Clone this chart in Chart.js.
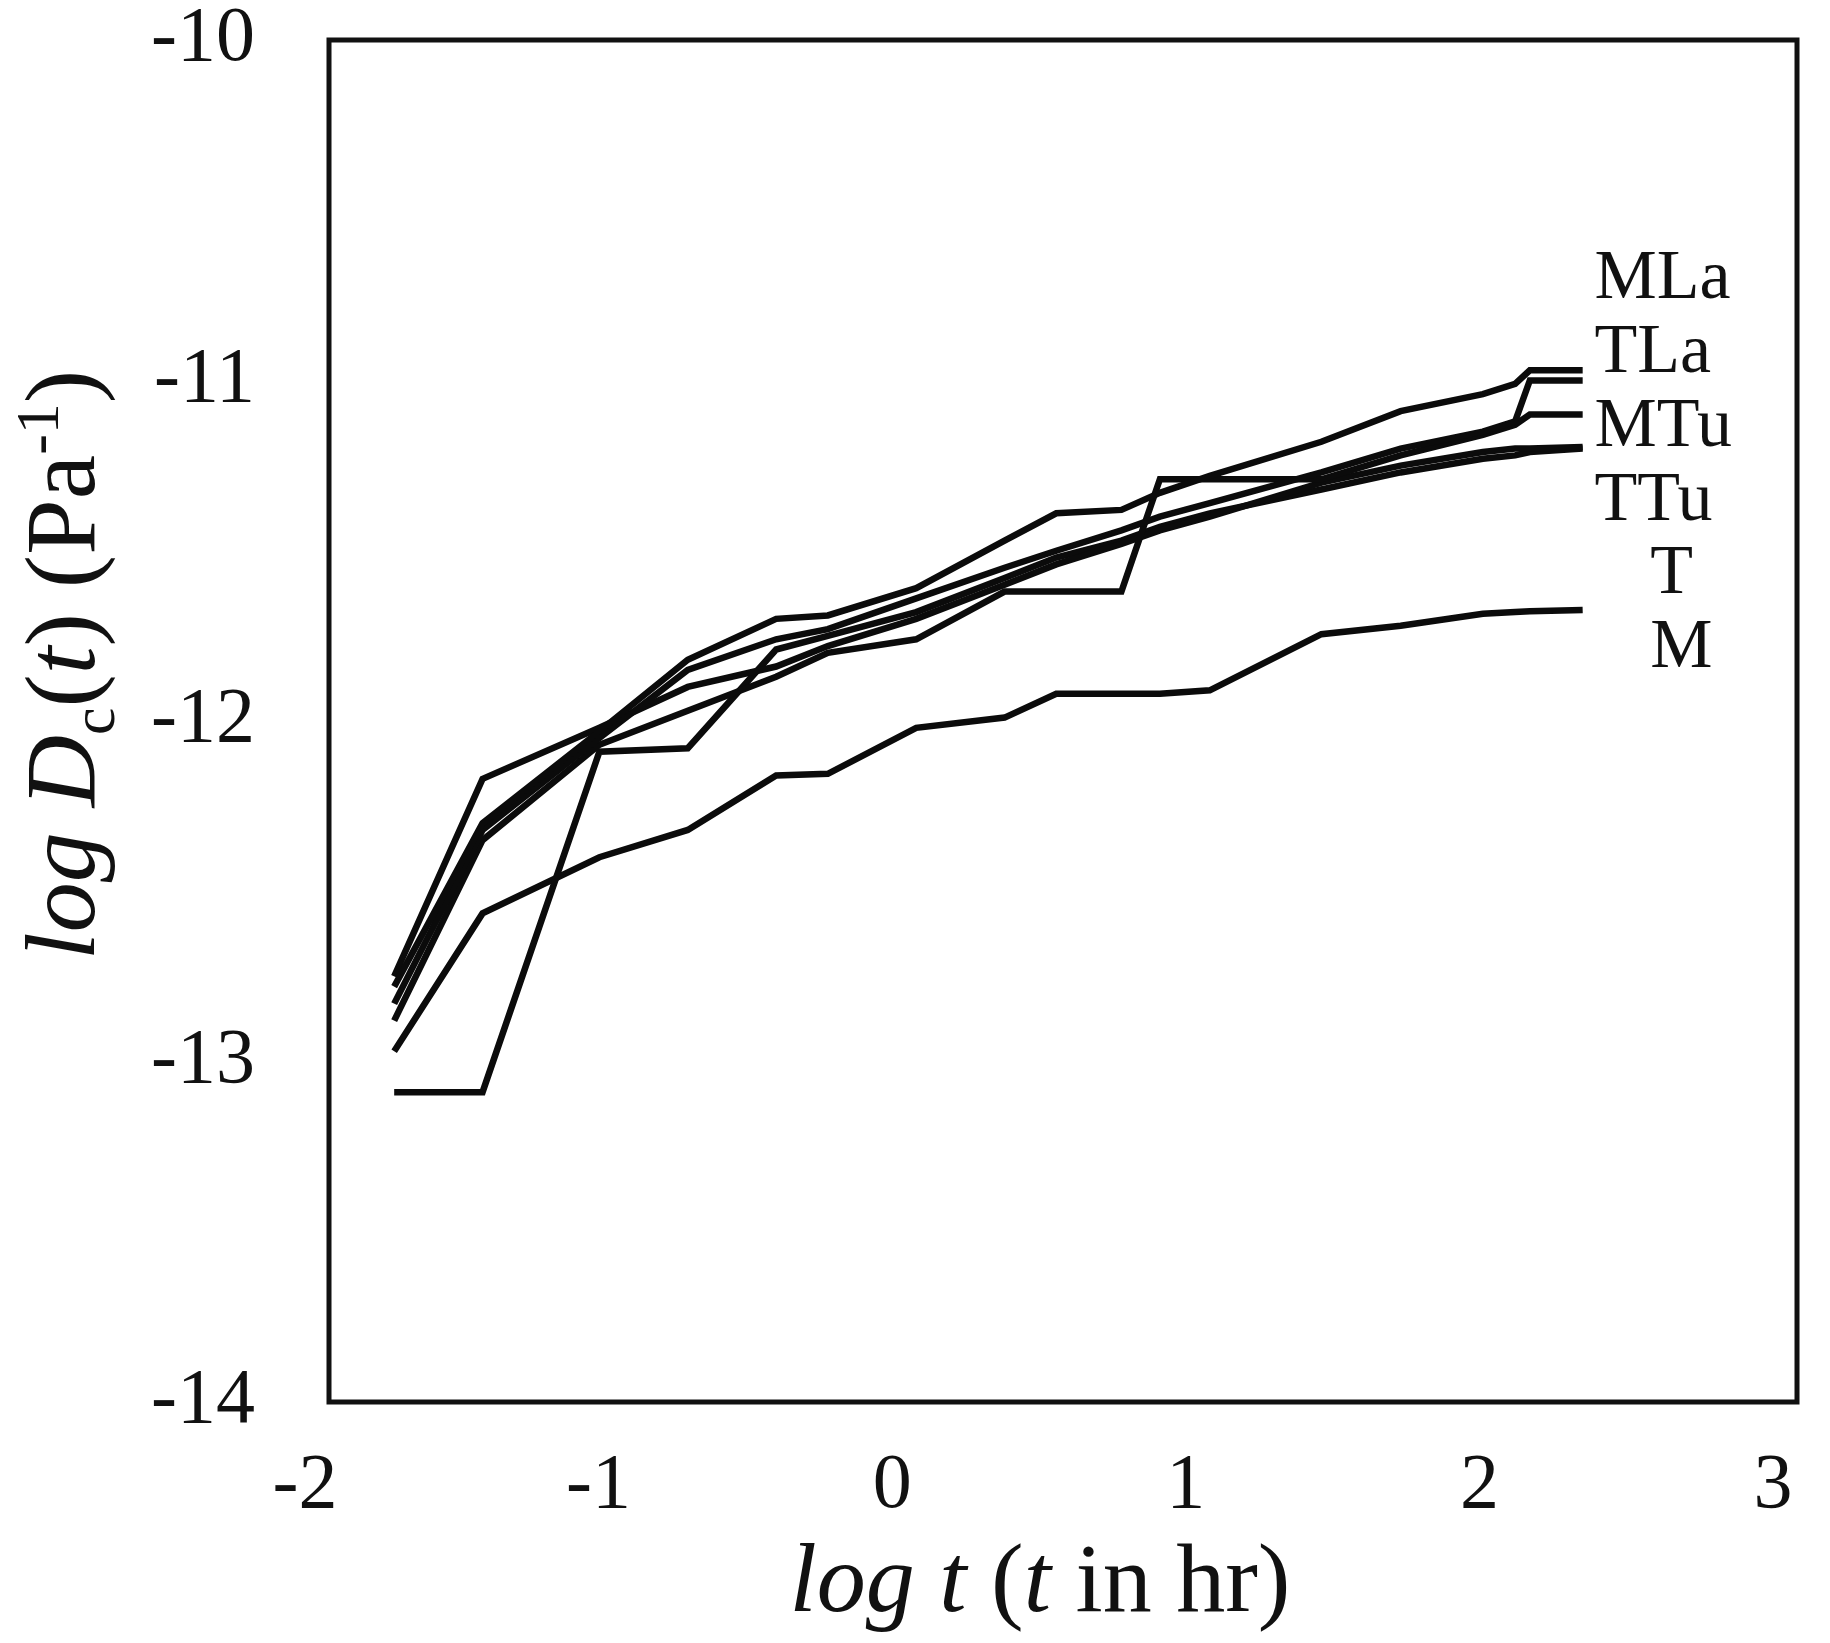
<!DOCTYPE html>
<html><head><meta charset="utf-8">
<script src="https://cdn.jsdelivr.net/npm/chart.js@4.4.1/dist/chart.umd.min.js"></script>
<style>html,body{margin:0;padding:0;background:#fff;}canvas{display:block;}</style>
</head><body>
<canvas id="c" width="1830" height="1643"></canvas>
<script>
// log t (t in hr)
const logT = [-1.778, -1.477, -1.079, -0.778, -0.477, -0.301, 0, 0.301, 0.477, 0.699, 0.83, 1.0, 1.38, 1.65, 1.93, 2.04, 2.09, 2.27];
// log Dc(t) for each sample
const MLa = [-12.78, -12.30, -12.03, -11.82, -11.70, -11.69, -11.61, -11.47, -11.39, -11.38, -11.33, -11.28, -11.18, -11.09, -11.04, -11.01, -10.97, -10.97];
const TLa = [-12.83, -12.32, -12.05, -11.85, -11.76, -11.73, -11.64, -11.55, -11.50, -11.44, -11.40, -11.36, -11.27, -11.20, -11.15, -11.12, -11.00, -11.00];
const MTu = [-12.88, -12.35, -12.07, -11.97, -11.87, -11.80, -11.76, -11.62, -11.62, -11.62, -11.29, -11.29, -11.29, -11.22, -11.16, -11.13, -11.10, -11.10];
const TTu = [-12.75, -12.17, -12.02, -11.90, -11.84, -11.78, -11.70, -11.60, -11.54, -11.48, -11.44, -11.40, -11.30, -11.25, -11.21, -11.20, -11.20, -11.195];
const T   = [-13.09, -13.09, -12.09, -12.08, -11.79, -11.75, -11.68, -11.58, -11.52, -11.47, -11.43, -11.39, -11.32, -11.27, -11.23, -11.22, -11.21, -11.20];
const M   = [-12.97, -12.565, -12.40, -12.32, -12.16, -12.155, -12.02, -11.99, -11.92, -11.92, -11.92, -11.91, -11.745, -11.72, -11.685, -11.68, -11.678, -11.674];

const seriesNames = ['MLa', 'TLa', 'MTu', 'TTu', 'T', 'M'];
const seriesValues = [MLa, TLa, MTu, TTu, T, M];

const xTicks = [-2, -1, 0, 1, 2, 3];
const yTicks = [-14, -13, -12, -11, -10];

// in-plot series labels (data coordinates)
const labelNames = ['MLa', 'TLa', 'MTu', 'TTu', 'T', 'M'];
const labelX = [2.31, 2.31, 2.31, 2.31, 2.50, 2.50];
const labelY = [-10.705, -10.922, -11.137, -11.357, -11.571, -11.786];

const SERIF = '"Liberation Serif", "Times New Roman", Times, serif';
const INK = '#111';

// target plot box (pixels)
const BOX = { left: 329, top: 40, right: 1797, bottom: 1402 };

function drawRich(ctx, segs, x, y, size, rotate) {
  ctx.save();
  ctx.translate(x, y);
  if (rotate) ctx.rotate(-Math.PI / 2);
  const fontFor = s => (s.it ? 'italic ' : '') + ((s.sub || s.sup) ? Math.round(size * 0.62) : size) + 'px ' + SERIF;
  let w = 0;
  segs.forEach(s => { ctx.font = fontFor(s); s.w = ctx.measureText(s.t).width; w += s.w; });
  let cx = -w / 2;
  ctx.textBaseline = 'alphabetic';
  ctx.textAlign = 'left';
  ctx.fillStyle = INK;
  segs.forEach(s => {
    ctx.font = fontFor(s);
    let dy = 0;
    if (s.sub) dy = size * 0.2;
    if (s.sup) dy = -size * 0.36;
    ctx.fillText(s.t, cx, dy + size * 0.3);
    cx += s.w;
  });
  ctx.restore();
}

const decorPlugin = {
  id: 'decor',
  afterDraw(chart) {
    const ctx = chart.ctx;
    const a = chart.chartArea;
    const xs = chart.scales.x, ys = chart.scales.y;
    ctx.save();
    ctx.strokeStyle = INK;
    ctx.lineWidth = 5;
    ctx.strokeRect(a.left, a.top, a.right - a.left, a.bottom - a.top);
    ctx.fillStyle = INK;
    ctx.font = '70px ' + SERIF;
    ctx.textAlign = 'left';
    ctx.textBaseline = 'middle';
    labelNames.forEach((n, i) => {
      ctx.fillText(n, xs.getPixelForValue(labelX[i]), ys.getPixelForValue(labelY[i]));
    });
    ctx.restore();
    drawRich(ctx, [
      { t: 'log t', it: true }, { t: ' (' }, { t: 't', it: true }, { t: ' in hr)' }
    ], 1040, 1582, 98, false);
    drawRich(ctx, [
      { t: 'log D', it: true }, { t: 'c', sub: true }, { t: '(' }, { t: 't', it: true },
      { t: ') (Pa' }, { t: '-1', sup: true }, { t: ')' }
    ], 64, 665, 100, true);
  }
};

const datasets = seriesNames.map((name, i) => ({
  label: name,
  data: logT.map((x, j) => ({ x: x, y: seriesValues[i][j] })),
  borderColor: '#0b0b0b',
  borderWidth: 6.5,
  pointRadius: 0,
  tension: 0,
  fill: false,
  borderJoinStyle: 'miter',
  borderCapStyle: 'butt'
}));

function noPad(s) { s.paddingTop = 0; s.paddingBottom = 0; s.paddingLeft = 0; s.paddingRight = 0; }

new Chart(document.getElementById('c'), {
  type: 'line',
  data: { datasets: datasets },
  options: {
    responsive: false,
    animation: false,
    devicePixelRatio: 1,
    layout: { padding: { left: 0, top: BOX.top, right: 1830 - BOX.right, bottom: 0 } },
    plugins: { legend: { display: false }, tooltip: { enabled: false } },
    scales: {
      x: {
        type: 'linear', min: -2, max: 3, position: 'bottom',
        grid: { display: false, drawTicks: false, tickLength: 0 },
        border: { display: false },
        afterBuildTicks: s => { s.ticks = xTicks.map(v => ({ value: v })); },
        afterFit: s => { s.height = 1643 - BOX.bottom; noPad(s); },
        ticks: { font: { family: SERIF, size: 78, lineHeight: 1 }, color: INK, padding: 46, labelOffset: -24, maxRotation: 0, autoSkip: false }
      },
      y: {
        type: 'linear', min: -14, max: -10, position: 'left',
        grid: { display: false, drawTicks: false, tickLength: 0 },
        border: { display: false },
        afterBuildTicks: s => { s.ticks = yTicks.map(v => ({ value: v })); },
        afterFit: s => { s.width = BOX.left; noPad(s); },
        ticks: { font: { family: SERIF, size: 78, lineHeight: 1 }, color: INK, padding: 74, autoSkip: false }
      }
    }
  },
  plugins: [decorPlugin]
});
</script>
</body></html>
